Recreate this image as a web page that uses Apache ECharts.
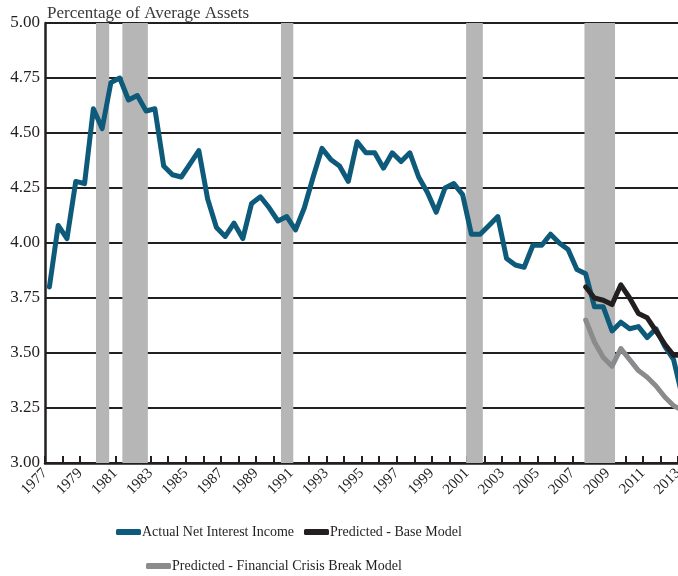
<!DOCTYPE html>
<html>
<head>
<meta charset="utf-8">
<script src="https://cdn.jsdelivr.net/npm/echarts@6/dist/echarts.min.js"></script>
<style>
    html, body { margin: 0; padding: 0; background: #fff; }
    #chart { width: 678px; height: 576px; }
</style>
</head>
<body>
<div id="chart"></div>
<script>
// 半年度数据，第一个点在 1977.25
const firstPeriod = 1977.25;
const periodStep = 0.5;

// 实际净利息收入（占平均资产百分比）
const actualValues = [
    3.80, 4.08, 4.02, 4.28, 4.27, 4.61, 4.52, 4.73, 4.75, 4.65,
    4.67, 4.60, 4.61, 4.35, 4.31, 4.30, 4.36, 4.42, 4.20, 4.07,
    4.03, 4.09, 4.02, 4.18, 4.21, 4.16, 4.10, 4.12, 4.06, 4.16,
    4.30, 4.43, 4.38, 4.35, 4.28, 4.46, 4.41, 4.41, 4.34, 4.41,
    4.37, 4.41, 4.30, 4.23, 4.14, 4.25, 4.27, 4.22, 4.04, 4.04,
    4.08, 4.12, 3.93, 3.90, 3.89, 3.99, 3.99, 4.04, 4.00, 3.97,
    3.88, 3.86, 3.71, 3.71, 3.60, 3.64, 3.61, 3.62, 3.57, 3.61,
    3.53, 3.47, 3.30
];

// 预测值从 2007.75 开始
const forecastStart = 2007.75;
const baseModelValues = [3.80, 3.75, 3.74, 3.72, 3.81, 3.75, 3.68, 3.66, 3.60, 3.54, 3.49, 3.49];
const crisisModelValues = [3.65, 3.55, 3.48, 3.44, 3.52, 3.47, 3.42, 3.39, 3.35, 3.30, 3.26, 3.24];

// 衰退期阴影
const recessions = [
    [1979.9, 1980.65],
    [1981.4, 1982.85],
    [1990.42, 1991.12],
    [2000.95, 2001.9],
    [2007.68, 2009.42]
];

const seriesNames = ['Actual Net Interest Income', 'Predicted - Base Model', 'Predicted - Financial Crisis Break Model'];
const seriesColors = ['#0d5a7a', '#231f20', '#8a8b8d'];

function toPairs(start, values) {
    return values.map((v, i) => [start + i * periodStep, v]);
}

const serifFont = '"Liberation Serif", "DejaVu Serif", serif';
const inkColor = '#231f20';

let chart = echarts.init(document.getElementById('chart'), null, {renderer: 'canvas'});

function lineSeries(name, color, data, extra) {
    return Object.assign({
        name: name,
        type: 'line',
        data: data,
        showSymbol: false,
        symbol: 'none',
        clip: true,
        lineStyle: {color: color, width: 5, cap: 'round', join: 'round'},
        itemStyle: {color: color}
    }, extra || {});
}

let option = {
    animation: false,
    title: {
        text: 'Percentage of Average Assets',
        left: 42,
        top: 0,
        textStyle: {fontFamily: serifFont, fontSize: 17, fontWeight: 'normal', color: '#3a3a3a'}
    },
    legend: [
        {
            data: [seriesNames[0], seriesNames[1]],
            left: 111,
            top: 520,
            icon: 'roundRect',
            itemWidth: 25,
            itemHeight: 6,
            itemGap: 10,
            textStyle: {fontFamily: serifFont, fontSize: 14, color: inkColor, padding: [0, 0, 0, -4]}
        },
        {
            data: [seriesNames[2]],
            left: 141,
            top: 554,
            icon: 'roundRect',
            itemWidth: 25,
            itemHeight: 6,
            textStyle: {fontFamily: serifFont, fontSize: 14, color: inkColor, padding: [0, 0, 0, -4]}
        }
    ],
    grid: {
        left: 45,
        right: 0,
        top: 23,
        bottom: 113,
        containLabel: false,
        outerBoundsMode: 'none'
    },
    xAxis: {
        type: 'value',
        min: 1977,
        max: 2013,
        interval: 1,
        axisLine: {show: true, lineStyle: {color: inkColor, width: 2.5}},
        axisTick: {show: true, inside: true, length: 7, lineStyle: {color: inkColor, width: 2}},
        splitLine: {show: false},
        axisLabel: {
            rotate: 45,
            margin: 8,
            hideOverlap: false,
            showMinLabel: true,
            showMaxLabel: true,
            fontFamily: serifFont,
            fontSize: 15,
            color: inkColor,
            formatter: v => (v % 2 === 1 ? String(v) : '')
        }
    },
    yAxis: {
        type: 'value',
        min: 3,
        max: 5,
        interval: 0.25,
        axisLine: {show: true, lineStyle: {color: inkColor, width: 2.5}},
        axisTick: {show: false},
        splitLine: {show: true, lineStyle: {color: inkColor, width: 2}},
        axisLabel: {
            margin: 5,
            fontFamily: serifFont,
            fontSize: 17,
            color: inkColor,
            formatter: v => v.toFixed(2)
        }
    },
    series: [
        lineSeries(seriesNames[0], seriesColors[0], toPairs(firstPeriod, actualValues), {
            z: 3,
            markArea: {
                silent: true,
                itemStyle: {color: '#b5b6b5'},
                data: recessions.map(r => [{xAxis: r[0]}, {xAxis: r[1]}])
            }
        }),
        lineSeries(seriesNames[1], seriesColors[1], toPairs(forecastStart, baseModelValues), {z: 4}),
        lineSeries(seriesNames[2], seriesColors[2], toPairs(forecastStart, crisisModelValues), {z: 5})
    ]
};

chart.setOption(option);
</script>
</body>
</html>
